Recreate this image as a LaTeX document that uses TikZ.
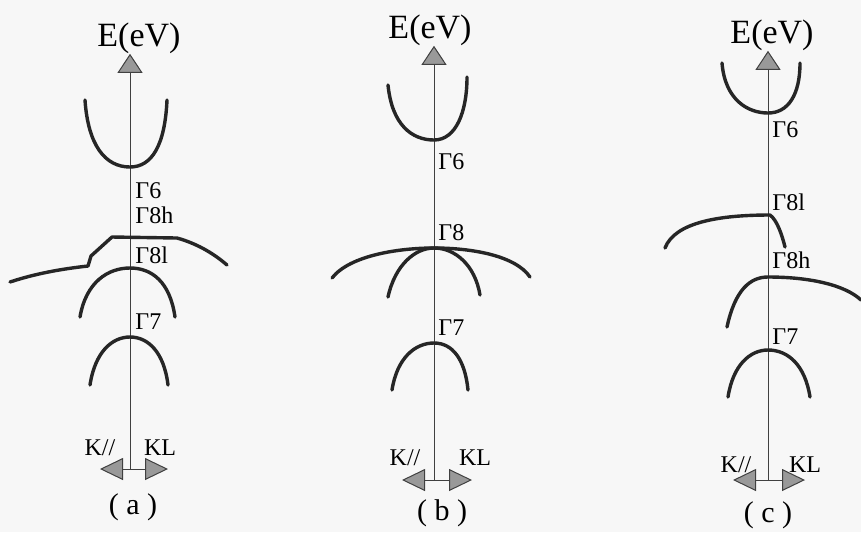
\documentclass[tikz,border=0pt]{standalone}
\usepackage{fontspec}
\setmainfont{Liberation Serif}
\usetikzlibrary{arrows.meta}

\begin{document}
\begin{tikzpicture}[x=0.5pt,y=-0.5pt,
   band/.style={black!85,line width=1.7pt,line cap=round,line join=round},
   axis/.style={black!75,line width=0.5pt},
   uparrow/.style={axis,-{Triangle[width=12.5pt,length=9.5pt,fill=black!40]}},
   karrow/.style={axis,-{Triangle[width=11pt,length=11.5pt,fill=black!40]}},
   glab/.style={anchor=west,inner sep=0pt,font=\fontsize{12}{12}\selectfont},
   klab/.style={inner sep=0pt,font=\fontsize{12}{12}\selectfont},
   elab/.style={inner sep=0pt,font=\fontsize{17}{17}\selectfont},
   plab/.style={inner sep=0pt,font=\fontsize{15}{15}\selectfont}]
   \useasboundingbox (0,0) rectangle (861,532);
   \fill[black!3] (0,0) rectangle (861,532);

   % (a)
   \node[elab] (ea) at (139,38) {E(eV)};
   \coordinate (abot) at (130,469);
   \coordinate (akl) at (100,469);
   \coordinate (akr) at (168,469);
   \draw[uparrow] (abot) -- (abot |- ea.south);
   \draw[karrow] (abot) -- (akl);
   \draw[karrow] (abot) -- (akr);
   \draw[band] (85,100) .. controls (88,145) and (105,167) .. (130,167) .. controls (152,167) and (165,145) .. (167,100);
   \draw[band] (10,282) .. controls (40,272) and (70,268) .. (88,266) -- (91,256) -- (112,237) -- (177,238) .. controls (195,243) and (212,252) .. (227,265);
   \draw[band] (80,317) .. controls (86,282) and (108,268) .. (130,268) .. controls (152,268) and (170,282) .. (175,317);
   \draw[band] (90,385) .. controls (95,352) and (112,337) .. (130,337) .. controls (148,337) and (164,352) .. (168,385);
   \node[glab] (g6a) at (135,191) {Γ6};
   \node[glab] (g8ha) at (135,215) {Γ8h};
   \node[glab] (g8la) at (135,255) {Γ8l};
   \node[glab] (g7a) at (135,322) {Γ7};
   \node[klab] (kpa) at (100,448) {K//};
   \node[klab] (kna) at (160,448) {KL};
   \node[plab] (pa) at (133,507) {( a )};

   % (b)
   \node[elab] (eb) at (430,30) {E(eV)};
   \coordinate (bbot) at (434,480);
   \coordinate (bkl) at (402,480);
   \coordinate (bkr) at (472,480);
   \draw[uparrow] (bbot) -- (bbot |- eb.south);
   \draw[karrow] (bbot) -- (bkl);
   \draw[karrow] (bbot) -- (bkr);
   \draw[band] (388,85) .. controls (392,125) and (412,140) .. (434,140) .. controls (456,140) and (467,112) .. (467,77);
   \draw[band] (332,278) .. controls (350,255) and (400,248) .. (434,248) .. controls (470,248) and (515,255) .. (530,277);
   \draw[band] (388,297) .. controls (395,265) and (415,248) .. (434,248) .. controls (455,248) and (475,265) .. (480,295);
   \draw[band] (392,390) .. controls (397,358) and (415,343) .. (434,343) .. controls (453,343) and (465,360) .. (468,390);
   \node[glab] (g6b) at (438,162) {Γ6};
   \node[glab] (g8b) at (438,233) {Γ8};
   \node[glab] (g7b) at (438,328) {Γ7};
   \node[klab] (kpb) at (405,458) {K//};
   \node[klab] (knb) at (475,458) {KL};
   \node[plab] (pb) at (442,513) {( b )};

   % (c)
   \node[elab] (ec) at (772,35) {E(eV)};
   \coordinate (cbot) at (768,480);
   \coordinate (ckl) at (733,480);
   \coordinate (ckr) at (805,480);
   \draw[uparrow] (cbot) -- (cbot |- ec.south);
   \draw[karrow] (cbot) -- (ckl);
   \draw[karrow] (cbot) -- (ckr);
   \draw[band] (722,63) .. controls (725,100) and (748,113) .. (768,113) .. controls (788,113) and (800,95) .. (800,63);
   \draw[band] (665,248) .. controls (675,222) and (720,215) .. (770,215) .. controls (777,220) and (782,235) .. (785,247);
   \draw[band] (727,327) .. controls (735,290) and (750,277) .. (768,277) .. controls (810,277) and (845,285) .. (861,300);
   \draw[band] (728,397) .. controls (733,365) and (750,350) .. (768,350) .. controls (788,350) and (805,365) .. (810,397);
   \node[glab] (g6c) at (772,130) {Γ6};
   \node[glab] (g8lc) at (772,202) {Γ8l};
   \node[glab] (g8hc) at (772,260) {Γ8h};
   \node[glab] (g7c) at (772,337) {Γ7};
   \node[klab] (kpc) at (736,465) {K//};
   \node[klab] (knc) at (805,465) {KL};
   \node[plab] (pc) at (768,515) {( c )};
\end{tikzpicture}
\end{document}
